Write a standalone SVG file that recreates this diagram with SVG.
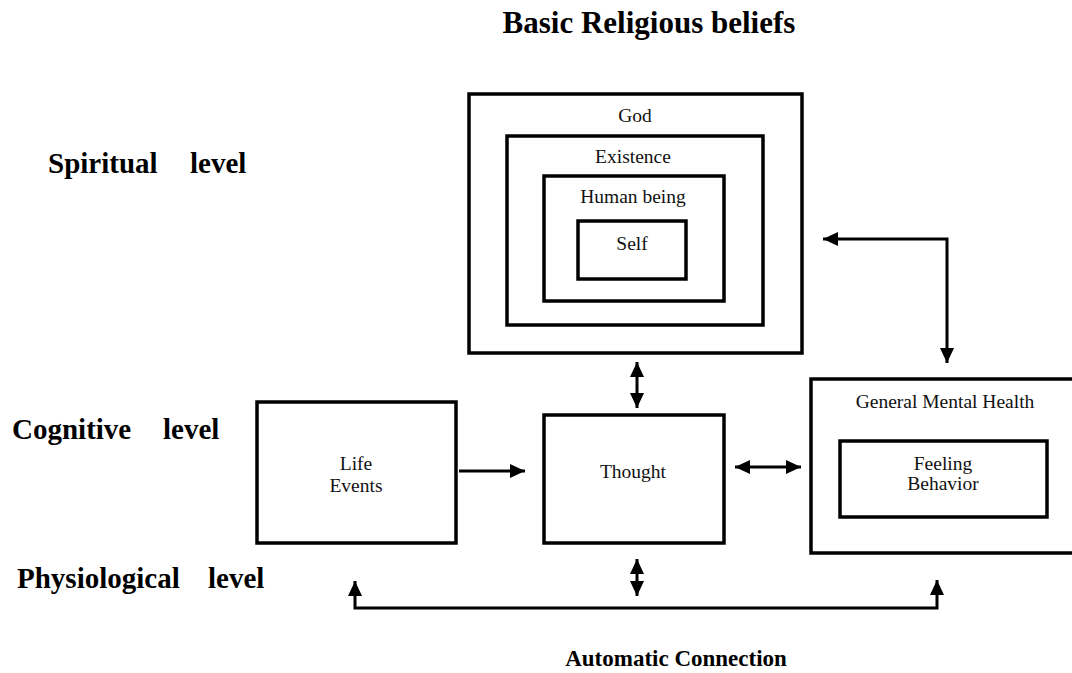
<svg xmlns="http://www.w3.org/2000/svg" width="1072" height="673" viewBox="0 0 1072 673">
<style>
  .box { fill: none; stroke: #000; stroke-width: 3.5; }
  .t { font-family: "Liberation Serif", "Times New Roman", serif; font-size: 19.5px; fill: #111; text-anchor: middle; }
  .lvl { font-family: "Liberation Serif", "Times New Roman", serif; font-size: 29px; font-weight: bold; fill: #000; }
  .conn { fill: none; stroke: #000; stroke-width: 3; }
</style>
<defs>
  <marker id="ah" markerUnits="userSpaceOnUse" markerWidth="15" markerHeight="14" refX="15" refY="7" orient="auto-start-reverse" viewBox="0 0 15 14">
    <path d="M0,0 L15,7 L0,14 z" fill="#000"/>
  </marker>
</defs>
<rect width="1072" height="673" fill="#fff"/>

<text x="649" y="33" class="lvl" style="font-size:31px;text-anchor:middle">Basic Religious beliefs</text>
<text class="lvl" y="173"><tspan x="48">Spiritual</tspan><tspan x="190">level</tspan></text>
<text class="lvl" y="439"><tspan x="12">Cognitive</tspan><tspan x="163">level</tspan></text>
<text class="lvl" y="588"><tspan x="17">Physiological</tspan><tspan x="208">level</tspan></text>
<text x="676" y="666" class="lvl" style="font-size:23px;text-anchor:middle">Automatic Connection</text>

<g id="god">
  <rect class="box" x="469" y="94" width="333" height="259"/>
  <text class="t" x="635" y="122">God</text>
</g>
<g id="existence">
  <rect class="box" x="507" y="136" width="256" height="189"/>
  <text class="t" x="633" y="163">Existence</text>
</g>
<g id="human-being">
  <rect class="box" x="544" y="176" width="180" height="125"/>
  <text class="t" x="633" y="203">Human being</text>
</g>
<g id="self">
  <rect class="box" x="578" y="221" width="108" height="58"/>
  <text class="t" x="632" y="250">Self</text>
</g>
<g id="life-events">
  <rect class="box" x="257" y="402" width="199" height="141"/>
  <text class="t" x="356" y="470">Life</text>
  <text class="t" x="356" y="492">Events</text>
</g>
<g id="thought">
  <rect class="box" x="544" y="415" width="180" height="128"/>
  <text class="t" x="633" y="478">Thought</text>
</g>
<g id="general-mental-health">
  <rect class="box" x="811" y="379" width="265" height="174"/>
  <text class="t" x="945" y="408">General Mental Health</text>
</g>
<g id="feeling-behavior">
  <rect class="box" x="840" y="441" width="207" height="76"/>
  <text class="t" x="943" y="470">Feeling</text>
  <text class="t" x="943" y="490">Behavior</text>
</g>

<g id="connectors">
  <path class="conn" d="M637,362 V408" marker-start="url(#ah)" marker-end="url(#ah)"/>
  <path class="conn" d="M637,559 V596" marker-start="url(#ah)" marker-end="url(#ah)"/>
  <path class="conn" d="M459,471 H525" marker-end="url(#ah)"/>
  <path class="conn" d="M735,467 H801" marker-start="url(#ah)" marker-end="url(#ah)"/>
  <path class="conn" d="M823,239 H947 V363" marker-start="url(#ah)" marker-end="url(#ah)"/>
  <path class="conn" d="M355,581 V608 H937 V580" marker-start="url(#ah)" marker-end="url(#ah)"/>
</g>
</svg>
